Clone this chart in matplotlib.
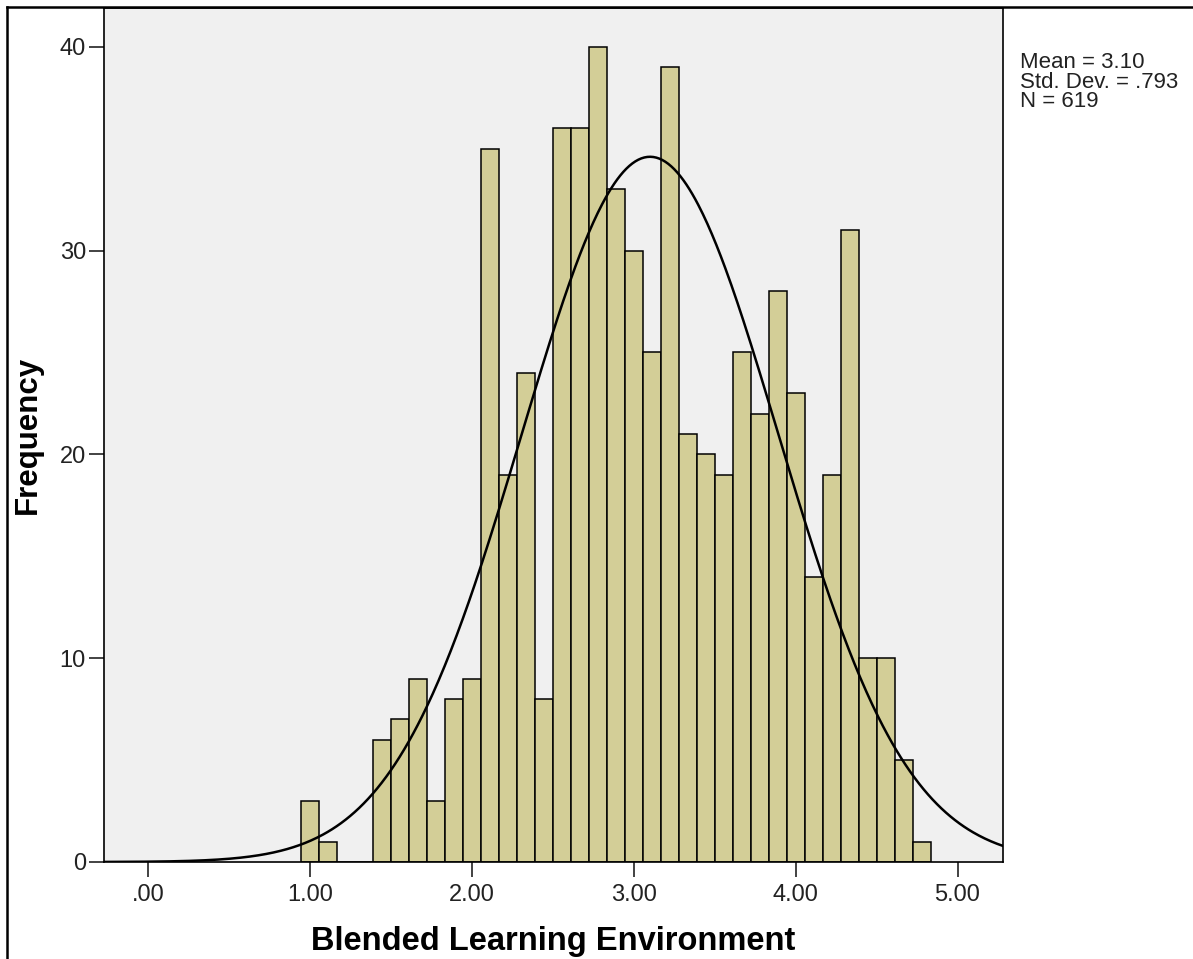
import numpy as np
import matplotlib
matplotlib.use("Agg")
import matplotlib.pyplot as plt
from matplotlib.lines import Line2D

# ---- data ----
bin_index = list(range(9, 44))          # bin centres are k/9
bin_width = 1 / 9
counts = [3, 1, 0, 0, 6, 7, 9, 3, 8, 9, 35, 19, 24, 8, 36, 36, 40, 33, 30,
          25, 39, 21, 20, 19, 25, 22, 28, 23, 14, 19, 31, 10, 10, 5, 1]
mean_val = 3.10
std_val = 0.793
n_val = 619
x_ticks = [0, 1, 2, 3, 4, 5]
x_tick_labels = [".00", "1.00", "2.00", "3.00", "4.00", "5.00"]
y_ticks = [0, 10, 20, 30, 40]
x_label = "Blended Learning Environment"
y_label = "Frequency"

plt.rcParams['font.family'] = ['Liberation Sans', 'DejaVu Sans']

W, H = 1193, 959
fig = plt.figure(figsize=(W / 100, H / 100), dpi=100)
fig.patch.set_facecolor("white")

ax_left, ax_right, ax_bot, ax_top = 104, 1003, 862, 8
ax = fig.add_axes([ax_left / W, 1 - ax_bot / H,
                   (ax_right - ax_left) / W, (ax_bot - ax_top) / H])
ax.set_facecolor("#F0F0F0")

centers = np.array(bin_index) / 9
ax.bar(centers, counts, width=bin_width, color="#D3CE97",
       edgecolor="black", linewidth=1.1, zorder=2)

xlim = (-0.274, 5.281)
xs = np.linspace(xlim[0], xlim[1], 600)
ys = n_val * bin_width * np.exp(-0.5 * ((xs - mean_val) / std_val) ** 2) / (std_val * np.sqrt(2 * np.pi))
ax.plot(xs, ys, color="black", linewidth=1.8, zorder=3)

ax.set_xlim(*xlim)
ax.set_ylim(0, 41.9)
ax.set_xticks(x_ticks)
ax.set_xticklabels(x_tick_labels)
ax.set_yticks(y_ticks)
ax.tick_params(direction="out", length=11, width=1.2, labelsize=17,
               colors="#222222")
ax.tick_params(axis="x", pad=5)
ax.tick_params(axis="y", pad=2)
for s in ax.spines.values():
    s.set_linewidth(1.2)
    s.set_color("black")

ax.set_xlabel(x_label, fontsize=23.5, fontweight="bold", labelpad=14)
ax.set_ylabel(y_label, fontsize=22.5, fontweight="bold", labelpad=12)

fig.text(1020 / W, 1 - 52 / H,
         f"Mean = {mean_val:.2f}\nStd. Dev. = {str(std_val)[1:]}\nN = {n_val}",
         fontsize=16, va="top", ha="left", linespacing=0.92,
         color="#222222", transform=fig.transFigure)

# outer frame lines (left and top)
fig.add_artist(Line2D([7.5 / W, 7.5 / W], [0, 1 - 7 / H], color="black",
                      linewidth=1.8, transform=fig.transFigure))
fig.add_artist(Line2D([7.5 / W, 1], [1 - 7 / H, 1 - 7 / H], color="black",
                      linewidth=1.8, transform=fig.transFigure))

fig.savefig("out.png", dpi=100)
